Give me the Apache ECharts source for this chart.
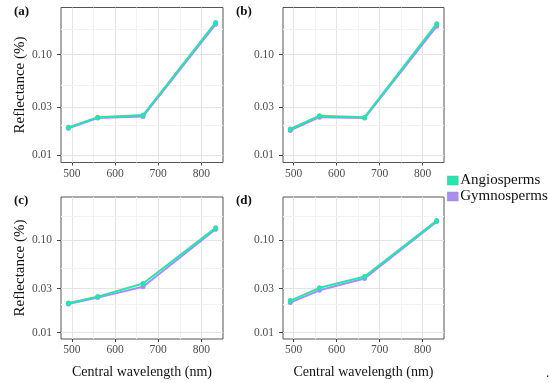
<!DOCTYPE html>
<html><head><meta charset="utf-8">
<script src="https://cdn.jsdelivr.net/npm/echarts@6/dist/echarts.min.js"></script>
<style>html,body{margin:0;padding:0;background:#fff}#c{width:550px;height:383px}</style>
</head><body><div id="c"></div>
<script>
const wavelength = [492, 560, 665, 833];
const angioA = [0.0190, 0.0240, 0.0252, 0.209];
const gymnoA = [0.0186, 0.0235, 0.0244, 0.200];
const angioB = [0.0183, 0.0248, 0.0240, 0.203];
const gymnoB = [0.0177, 0.0240, 0.0235, 0.191];
const angioC = [0.0209, 0.0245, 0.0340, 0.136];
const gymnoC = [0.0204, 0.0239, 0.0313, 0.1316];
const angioD = [0.0222, 0.0305, 0.0404, 0.163];
const gymnoD = [0.0211, 0.0287, 0.0384, 0.159];
const panelLabels = ['(a)', '(b)', '(c)', '(d)'];
const xTicks = [500, 600, 700, 800];
const xMinor = [550, 650, 750];
const yTicks = [0.01, 0.03, 0.10];
const seriesNames = ['Angiosperms', 'Gymnosperms'];

const angio = [angioA, angioB, angioC, angioD];
const gymno = [gymnoA, gymnoB, gymnoC, gymnoD];
const COL_A = '#22E6AE', COL_G = '#A98DF2';
const FONT = '"Liberation Serif", "DejaVu Serif", serif';

// y limits: 0.01..0.25 with 5% expansion in log space
const lo = Math.log10(0.01), hi = Math.log10(0.25), ex = (hi - lo) * 0.05;
const yMin = Math.pow(10, lo - ex), yMax = Math.pow(10, hi + ex);
// ggplot-style minor breaks: geometric midpoints, incl. one beyond last major
const yMinor = [];
for (let i = 0; i < yTicks.length - 1; i++) yMinor.push(Math.sqrt(yTicks[i] * yTicks[i + 1]));
yMinor.push(yTicks[yTicks.length - 1] * Math.sqrt(yTicks[yTicks.length - 1] / yTicks[yTicks.length - 2]));

const grids = [
  {left: 61, top: 7.5, width: 162, height: 155},
  {left: 283, top: 7.5, width: 161, height: 155},
  {left: 61, top: 197, width: 162, height: 142},
  {left: 283, top: 197, width: 161, height: 142}
].map(g => Object.assign({show: true, borderColor: '#555', borderWidth: 1, backgroundColor: '#fff'}, g));

const xAxes = [], yAxes = [], series = [];
for (let i = 0; i < 4; i++) {
  const bottom = i >= 2, left = i % 2 === 0;
  xAxes.push({
    type: 'value', gridIndex: i, min: 475, max: 850,
    axisLine: {show: false},
    axisTick: {show: true, length: 3, customValues: xTicks, lineStyle: {color: '#444'}},
    axisLabel: {customValues: xTicks, color: '#4d4d4d', fontFamily: FONT, fontSize: 11.5, margin: 5},
    splitLine: {show: false},
    name: bottom ? 'Central wavelength (nm)' : '', nameLocation: 'middle', nameGap: 26,
    nameTextStyle: {color: '#111', fontFamily: FONT, fontSize: 14}
  });
  yAxes.push({
    type: 'log', logBase: 10, gridIndex: i, min: yMin, max: yMax,
    axisLine: {show: false},
    axisTick: {show: true, length: 4, customValues: yTicks, lineStyle: {color: '#444'}},
    axisLabel: {customValues: yTicks, color: '#4d4d4d', fontFamily: FONT, fontSize: 11.5, margin: 9,
      formatter: v => Number(v).toFixed(2)},
    splitLine: {show: false},
    name: left ? 'Reflectance (%)' : '', nameLocation: 'middle', nameGap: 33,
    nameTextStyle: {color: '#111', fontFamily: FONT, fontSize: 15}
  });
  const gridData = [];
  xTicks.forEach(v => gridData.push({xAxis: v, lineStyle: {color: '#e4e4e4', width: 1}}));
  xMinor.forEach(v => gridData.push({xAxis: v, lineStyle: {color: '#f2f2f2', width: 1}}));
  yTicks.forEach(v => gridData.push({yAxis: v, lineStyle: {color: '#e4e4e4', width: 1}}));
  yMinor.forEach(v => gridData.push({yAxis: v, lineStyle: {color: '#f2f2f2', width: 1}}));
  series.push({
    type: 'line', xAxisIndex: i, yAxisIndex: i, data: [], z: 1, silent: true,
    markLine: {silent: true, symbol: 'none', z: 1, animation: false, label: {show: false},
      lineStyle: {type: 'solid'}, data: gridData}
  });
  series.push({
    name: seriesNames[1], type: 'line', xAxisIndex: i, yAxisIndex: i, z: 2,
    data: wavelength.map((w, k) => [w, gymno[i][k]]),
    symbol: 'circle', symbolSize: 5, itemStyle: {color: COL_G}, lineStyle: {color: COL_G, width: 2}
  });
  series.push({
    name: seriesNames[0], type: 'line', xAxisIndex: i, yAxisIndex: i, z: 3,
    data: wavelength.map((w, k) => [w, angio[i][k]]),
    symbol: 'circle', symbolSize: 5, itemStyle: {color: COL_A}, lineStyle: {color: COL_A, width: 2}
  });
}

const titlePos = [{left: 14, top: 5}, {left: 236, top: 5}, {left: 14, top: 194}, {left: 236, top: 194}];
const titles = panelLabels.map((t, i) => Object.assign({
  text: t, textStyle: {fontFamily: FONT, fontWeight: 'bold', fontSize: 13, color: '#111'}, padding: 0
}, titlePos[i]));
titles.push({text: '.', left: 546, top: 368, padding: 0, textStyle: {fontSize: 12, color: '#000', fontWeight: 'normal'}});

const chart = echarts.init(document.getElementById('c'), null, {renderer: 'canvas'});
chart.setOption({
  animation: false,
  title: titles,
  legend: {
    data: seriesNames, orient: 'vertical', left: 447, top: 173, itemGap: 1,
    icon: 'rect', itemWidth: 11, itemHeight: 9, padding: 0,
    textStyle: {fontFamily: FONT, fontSize: 15, color: '#111', padding: [0, 0, 0, -3]},
    itemStyle: {borderWidth: 0.5, borderColor: '#999'}
  },
  grid: grids, xAxis: xAxes, yAxis: yAxes, series: series
});
</script></body></html>
